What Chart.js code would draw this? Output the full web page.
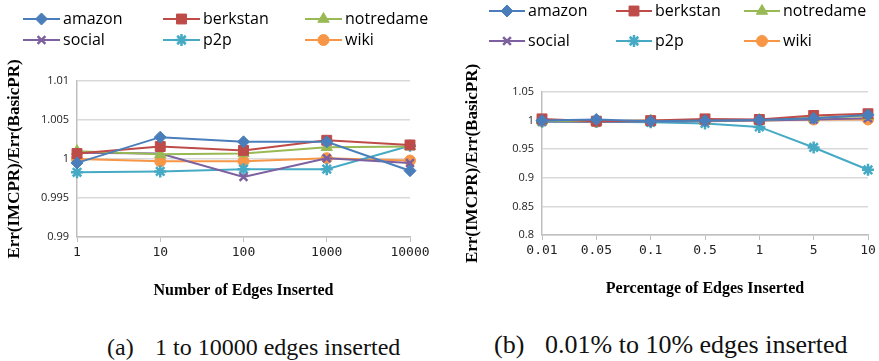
<!DOCTYPE html>
<html>
<head>
<meta charset="utf-8">
<script src="https://cdn.jsdelivr.net/npm/chart.js@4/dist/chart.umd.min.js"></script>
<style>
  body { margin: 0; background: #fff; width: 879px; height: 361px; position: relative; overflow: hidden; }
  .box { position: absolute; top: 0; height: 305px; }
  #boxA { left: 0; width: 440px; }
  #boxB { left: 440px; width: 439px; }
  .cap { position: absolute; font-family: "Liberation Serif", "Times New Roman", serif; color: #111; white-space: pre; line-height: 1; }
</style>
</head>
<body>
<div class="box" id="boxA"><canvas id="chartA"></canvas></div>
<div class="box" id="boxB"><canvas id="chartB"></canvas></div>
<div class="cap" style="left:107px; top:335px; font-size:24px;">(a)</div>
<div class="cap" style="left:155px; top:335px; font-size:24px;">1 to 10000 edges inserted</div>
<div class="cap" style="left:494px; top:332px; font-size:26px;">(b)</div>
<div class="cap" style="left:545px; top:332px; font-size:26px;">0.01% to 10% edges inserted</div>
<script>
// series names and looks
const seriesNames = ["amazon", "berkstan", "notredame", "social", "p2p", "wiki"];
const seriesColors = ["#4a7ebb", "#be4b48", "#98b954", "#7d60a0", "#46aac5", "#f79646"];
const seriesMarkers = ["rectRot", "rect", "triangle", "crossRot", "star", "circle"];

// (a) number of edges inserted
const edgesA = ["1", "10", "100", "1000", "10000"];
const amazonA = [0.9995, 1.0028, 1.0022, 1.0022, 0.9985];
const berkstanA = [1.0007, 1.0016, 1.0011, 1.0024, 1.0018];
const notredameA = [1.0010, 1.0006, 1.0007, 1.0015, 1.0016];
const socialA = [1.0008, 1.0007, 0.9977, 1.0001, 0.9995];
const p2pA = [0.9983, 0.9984, 0.9987, 0.9987, 1.0017];
const wikiA = [1.0000, 0.9997, 0.9997, 1.0001, 0.9998];
const yTicksA = [0.99, 0.995, 1, 1.005, 1.01];

// (b) percentage of edges inserted
const edgesB = ["0.01", "0.05", "0.1", "0.5", "1", "5", "10"];
const amazonB = [1.000, 1.002, 0.999, 1.000, 1.001, 1.004, 1.010];
const berkstanB = [1.003, 0.999, 1.000, 1.003, 1.002, 1.009, 1.012];
const notredameB = [1.000, 0.999, 1.000, 1.000, 1.001, 1.005, 1.008];
const socialB = [0.999, 0.998, 0.999, 0.999, 1.000, 1.002, 1.004];
const p2pB = [0.998, 0.998, 0.997, 0.995, 0.989, 0.953, 0.914];
const wikiB = [0.999, 0.998, 0.999, 1.000, 1.000, 1.002, 1.002];
const yTicksB = [0.8, 0.85, 0.9, 0.95, 1, 1.05];

const yTitle = "Err(IMCPR)/Err(BasicPR)";

function markerSize(style) {
  if (style === "rect") return 7;
  if (style === "triangle") return 6.5;
  if (style === "rectRot") return 6;
  if (style === "star") return 6;
  if (style === "crossRot") return 5.5;
  return 5.5;
}

function makeDatasets(values) {
  return values.map((v, i) => ({
    label: seriesNames[i],
    data: v,
    borderColor: seriesColors[i],
    backgroundColor: seriesColors[i],
    pointStyle: seriesMarkers[i],
    pointRadius: markerSize(seriesMarkers[i]),
    pointBorderWidth: (seriesMarkers[i] === "star" || seriesMarkers[i] === "crossRot") ? 2.5 : 1,
    borderWidth: 2,
    tension: 0,
  }));
}

// legend drawn as line + marker in a 3x2 grid
const gridLegend = {
  id: "gridLegend",
  afterDraw(chart, args, opts) {
    const ctx = chart.ctx;
    ctx.save();
    chart.data.datasets.forEach((ds, i) => {
      const col = i % 3, row = Math.floor(i / 3);
      const x = opts.cols[col], y = opts.rows[row];
      ctx.strokeStyle = ds.borderColor;
      ctx.lineWidth = 2;
      ctx.beginPath();
      ctx.moveTo(x, y);
      ctx.lineTo(x + opts.lineLen, y);
      ctx.stroke();
      ctx.fillStyle = ds.backgroundColor;
      ctx.lineWidth = ds.pointBorderWidth;
      Chart.helpers.drawPoint(ctx, {
        pointStyle: ds.pointStyle, rotation: 0,
        radius: ds.pointRadius, borderWidth: ds.pointBorderWidth,
      }, x + opts.lineLen / 2, y);
      ctx.fillStyle = "#000";
      ctx.font = "16px 'Open Sans', 'Liberation Sans', sans-serif";
      ctx.textBaseline = "middle";
      ctx.fillText(ds.label, x + opts.lineLen + 3, y);
    });
    ctx.restore();
  }
};

function makeChart(id, labels, values, yTicks, xTitle, cfg) {
  return new Chart(document.getElementById(id), {
    type: "line",
    data: { labels: labels, datasets: makeDatasets(values) },
    plugins: [gridLegend],
    options: {
      responsive: true,
      maintainAspectRatio: false,
      animation: false,
      layout: { padding: cfg.padding },
      plugins: {
        legend: { display: false },
        tooltip: { enabled: false },
        gridLegend: cfg.legend,
      },
      scales: {
        x: {
          offset: false,
          grid: { display: true, drawOnChartArea: false, tickLength: 5, color: "#bfbfbf" },
          border: { color: "#bfbfbf", width: 1.5 },
          ticks: { color: "#222", font: { size: 13, family: "'DejaVu Sans Mono', monospace" }, padding: 3, maxRotation: 0, autoSkip: false },
          title: {
            display: true, text: xTitle, color: "#000",
            font: { size: 16, weight: "bold", family: "'Liberation Serif', serif" },
            padding: { top: 4, bottom: 0 },
          },
          afterFit: (s) => { s.height = cfg.xHeight; },
        },
        y: {
          min: yTicks[0],
          max: yTicks[yTicks.length - 1],
          afterBuildTicks: (s) => { s.ticks = yTicks.map((v) => ({ value: v })); },
          grid: { color: "#d9d9d9", lineWidth: 1.5, drawTicks: false },
          border: { color: "#bfbfbf", width: 1.5 },
          ticks: {
            color: "#222", padding: 8,
            font: { size: 11, family: "'Open Sans', 'Liberation Sans', sans-serif" },
            callback: (v) => String(v),
          },
          title: {
            display: true, text: yTitle, color: "#000",
            font: { size: 17, weight: "bold", family: "'Liberation Serif', serif" },
            padding: { top: 0, bottom: 0 },
          },
          afterFit: (s) => { s.width = cfg.yWidth; },
        },
      },
    },
  });
}

makeChart("chartA", edgesA, [amazonA, berkstanA, notredameA, socialA, p2pA, wikiA], yTicksA,
  "Number of Edges Inserted", {
    padding: { top: 81, right: 30, bottom: 5, left: 4 },
    xHeight: 63, yWidth: 73,
    legend: { cols: [23, 163, 305], rows: [19, 40], lineLen: 37 },
  });

makeChart("chartB", edgesB, [amazonB, berkstanB, notredameB, socialB, p2pB, wikiB], yTicksB,
  "Percentage of Edges Inserted", {
    padding: { top: 92, right: 11, bottom: 7, left: 22 },
    xHeight: 63, yWidth: 80,
    legend: { cols: [49, 176, 304], rows: [11, 41], lineLen: 36 },
  });
</script>
</body>
</html>
